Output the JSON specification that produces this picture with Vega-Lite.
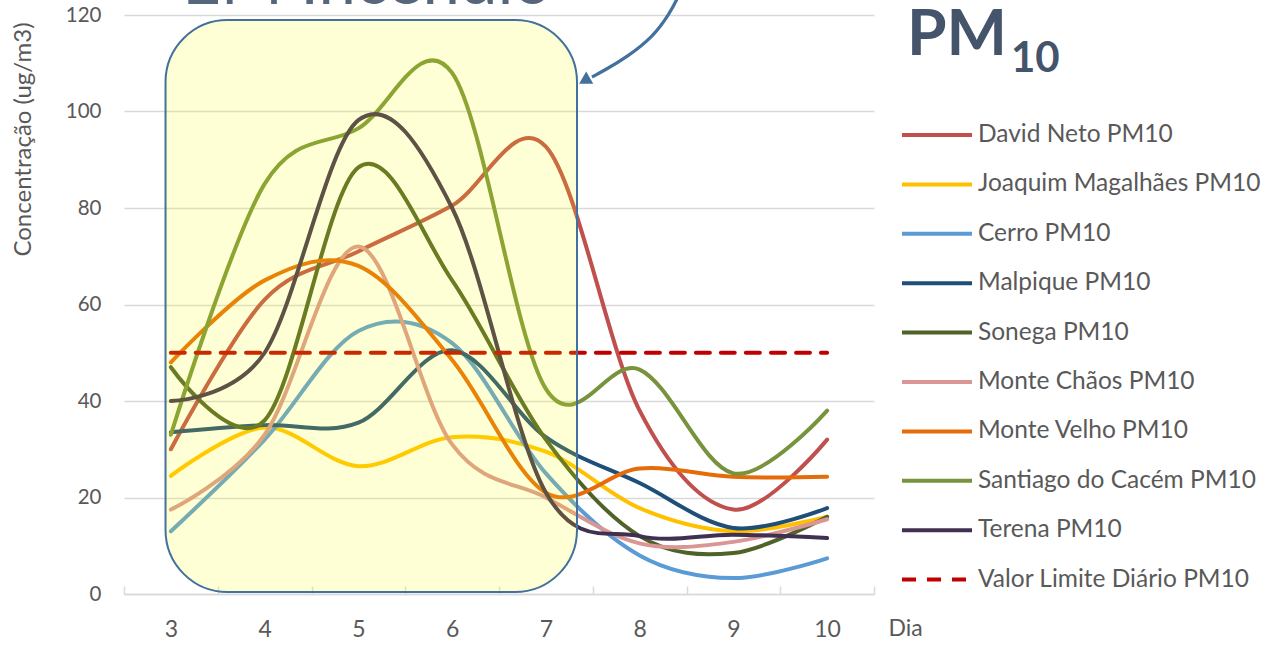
{
  "$schema": "https://vega.github.io/schema/vega-lite/v6.json",
  "width": 750,
  "height": 579,
  "autosize": {"type": "none"},
  "padding": {"left": 124, "top": 15, "right": 394, "bottom": 54},
  "background": "white",
  "config": {"view": {"stroke": null}, "font": "Lato"},
  "datasets": {
    "pm": [
      {"dia": 3, "David Neto PM10": 30, "Joaquim Magalhães PM10": 24.5, "Cerro PM10": 13, "Malpique PM10": 33.5, "Sonega PM10": 47, "Monte Chãos PM10": 17.5, "Monte Velho PM10": 48, "Santiago do Cacém PM10": 33, "Terena PM10": 40, "Valor Limite Diário PM10": 50},
      {"dia": 4, "David Neto PM10": 61, "Joaquim Magalhães PM10": 34.5, "Cerro PM10": 32, "Malpique PM10": 35, "Sonega PM10": 36, "Monte Chãos PM10": 33, "Monte Velho PM10": 65, "Santiago do Cacém PM10": 85, "Terena PM10": 50, "Valor Limite Diário PM10": 50},
      {"dia": 5, "David Neto PM10": 71, "Joaquim Magalhães PM10": 26.5, "Cerro PM10": 54.5, "Malpique PM10": 35.5, "Sonega PM10": 88.4, "Monte Chãos PM10": 72, "Monte Velho PM10": 68, "Santiago do Cacém PM10": 96.5, "Terena PM10": 98.2, "Valor Limite Diário PM10": 50},
      {"dia": 6, "David Neto PM10": 80.5, "Joaquim Magalhães PM10": 32.5, "Cerro PM10": 52, "Malpique PM10": 50.5, "Sonega PM10": 65, "Monte Chãos PM10": 31, "Monte Velho PM10": 48.5, "Santiago do Cacém PM10": 108, "Terena PM10": 80, "Valor Limite Diário PM10": 50},
      {"dia": 7, "David Neto PM10": 92.7, "Joaquim Magalhães PM10": 29.5, "Cerro PM10": 25, "Malpique PM10": 32.5, "Sonega PM10": 32, "Monte Chãos PM10": 20, "Monte Velho PM10": 21, "Santiago do Cacém PM10": 42.5, "Terena PM10": 21, "Valor Limite Diário PM10": 50},
      {"dia": 8, "David Neto PM10": 38, "Joaquim Magalhães PM10": 17.8, "Cerro PM10": 8, "Malpique PM10": 23, "Sonega PM10": 12, "Monte Chãos PM10": 10.5, "Monte Velho PM10": 26, "Santiago do Cacém PM10": 46.5, "Terena PM10": 12, "Valor Limite Diário PM10": 50},
      {"dia": 9, "David Neto PM10": 17.5, "Joaquim Magalhães PM10": 13, "Cerro PM10": 3.3, "Malpique PM10": 13.7, "Sonega PM10": 8.5, "Monte Chãos PM10": 10.8, "Monte Velho PM10": 24.3, "Santiago do Cacém PM10": 25, "Terena PM10": 12.3, "Valor Limite Diário PM10": 50},
      {"dia": 10, "David Neto PM10": 32, "Joaquim Magalhães PM10": 16, "Cerro PM10": 7.4, "Malpique PM10": 17.8, "Sonega PM10": 16, "Monte Chãos PM10": 15.5, "Monte Velho PM10": 24.3, "Santiago do Cacém PM10": 38, "Terena PM10": 11.6, "Valor Limite Diário PM10": 50}
    ],
    "seta": [
      {"x": 8.409, "y": 123.73},
      {"x": 8.324, "y": 120.41},
      {"x": 8.143, "y": 115.44},
      {"x": 7.865, "y": 111.3},
      {"x": 7.631, "y": 108.6},
      {"x": 7.492, "y": 107.15}
    ]
  },
  "layer": [
    {
      "data": {"name": "pm"},
      "transform": [
        {"fold": ["David Neto PM10", "Joaquim Magalhães PM10", "Cerro PM10", "Malpique PM10", "Sonega PM10", "Monte Chãos PM10", "Monte Velho PM10", "Santiago do Cacém PM10", "Terena PM10", "Valor Limite Diário PM10"], "as": ["serie", "valor"]}
      ],
      "mark": {"type": "line", "interpolate": "cardinal", "strokeCap": "round", "strokeJoin": "round"},
      "encoding": {
        "x": {
          "field": "dia", "type": "ordinal",
          "scale": {"type": "band", "paddingInner": 0, "paddingOuter": 0},
          "axis": {
            "title": "Dia", "labelAngle": 0, "tickBand": "extent",
            "domainColor": "#d9d9d9", "domainWidth": 1.5, "tickColor": "#d9d9d9", "tickWidth": 1.5, "tickSize": -8,
            "labelFont": "Lato", "labelFontSize": 23, "labelColor": "#595959", "labelPadding": 32,
            "titleFont": "Lato", "titleFontSize": 23, "titleFontWeight": "normal", "titleColor": "#595959",
            "titleAngle": 0, "titleX": 764, "titleY": 34, "titleAlign": "left", "titleBaseline": "middle"
          }
        },
        "y": {
          "field": "valor", "type": "quantitative",
          "scale": {"domain": [0, 120]},
          "axis": {
            "values": [0, 20, 40, 60, 80, 100, 120],
            "grid": true, "gridColor": "#d9d9d9", "gridWidth": 1.5, "domain": false, "ticks": false,
            "labelFont": "Lato", "labelFontSize": 20.5, "labelColor": "#595959", "labelPadding": 23,
            "title": "Concentração (ug/m3)", "titleFont": "Lato", "titleFontSize": 24, "titleFontWeight": "normal", "titleColor": "#595959",
            "titleAngle": 270, "titleX": -101, "titleY": 124, "titleAlign": "center", "titleBaseline": "middle"
          }
        },
        "color": {
          "field": "serie", "type": "nominal",
          "scale": {
            "domain": ["David Neto PM10", "Joaquim Magalhães PM10", "Cerro PM10", "Malpique PM10", "Sonega PM10", "Monte Chãos PM10", "Monte Velho PM10", "Santiago do Cacém PM10", "Terena PM10", "Valor Limite Diário PM10"],
            "range": ["#c0504d", "#ffc000", "#5b9bd5", "#1f4e79", "#4f6228", "#d99694", "#e46c0a", "#77933c", "#403152", "#c00000"]
          },
          "legend": {"orient": "none", "legendX": 776, "legendY": 83, "title": null, "symbolType": "stroke", "symbolSize": 4900, "symbolStrokeWidth": 4.5, "labelFont": "Lato", "labelFontSize": 24.5, "labelColor": "#595959", "labelOffset": 4, "rowPadding": 0.4, "padding": 0, "labelLimit": 400}
        },
        "strokeDash": {
          "field": "serie", "type": "nominal",
          "scale": {
            "domain": ["David Neto PM10", "Joaquim Magalhães PM10", "Cerro PM10", "Malpique PM10", "Sonega PM10", "Monte Chãos PM10", "Monte Velho PM10", "Santiago do Cacém PM10", "Terena PM10", "Valor Limite Diário PM10"],
            "range": [[2000, 0], [2000, 0], [2000, 0], [2000, 0], [2000, 0], [2000, 0], [2000, 0], [2000, 0], [2000, 0], [14, 11]]
          },
          "legend": {"orient": "none", "legendX": 776, "legendY": 83, "title": null, "symbolType": "stroke", "symbolSize": 4900, "symbolStrokeWidth": 4.5, "labelFont": "Lato", "labelFontSize": 24.5, "labelColor": "#595959", "labelOffset": 4, "rowPadding": 0.4, "padding": 0, "labelLimit": 400}
        },
        "strokeWidth": {
          "field": "serie", "type": "nominal",
          "scale": {
            "domain": ["David Neto PM10", "Joaquim Magalhães PM10", "Cerro PM10", "Malpique PM10", "Sonega PM10", "Monte Chãos PM10", "Monte Velho PM10", "Santiago do Cacém PM10", "Terena PM10", "Valor Limite Diário PM10"],
            "range": [4, 4, 4, 4, 4, 4, 4, 4, 4, 5.5]
          },
          "legend": null
        }
      }
    },
    {
      "layer": [
        {
          "data": {"values": [{}]},
          "mark": {"type": "rect", "cornerRadius": 62, "fill": "#ffff00", "fillOpacity": 0.16, "stroke": "#41719c", "strokeWidth": 2, "strokeOpacity": 1},
          "encoding": {
            "x": {"datum": 2.943, "type": "quantitative", "scale": {"domain": [2.5, 10.5]}, "axis": null},
            "x2": {"datum": 7.332},
            "y": {"datum": 0.41, "type": "quantitative", "scale": {"domain": [0, 120]}, "title": "Concentração (ug/m3)"},
            "y2": {"datum": 118.96}
          }
        },
        {
          "data": {"name": "seta"},
          "mark": {"type": "line", "interpolate": "basis", "stroke": "#41719c", "strokeWidth": 3.2, "clip": false},
          "encoding": {
            "x": {"field": "x", "type": "quantitative", "scale": {"domain": [2.5, 10.5]}, "axis": null},
            "y": {"field": "y", "type": "quantitative", "scale": {"domain": [0, 120]}, "title": "Concentração (ug/m3)"}
          }
        },
        {
          "data": {"values": [{}]},
          "mark": {"type": "point", "shape": "triangle", "filled": true, "fill": "#41719c", "stroke": null, "size": 200, "angle": 240, "opacity": 1},
          "encoding": {
            "x": {"datum": 7.43, "type": "quantitative", "scale": {"domain": [2.5, 10.5]}, "axis": null},
            "y": {"datum": 106.6, "type": "quantitative", "scale": {"domain": [0, 120]}, "title": "Concentração (ug/m3)"}
          }
        },
        {
          "data": {"values": [{"t": "PM"}]},
          "mark": {"type": "text", "font": "Lato", "fontSize": 64, "fontWeight": "bold", "color": "#44546a", "align": "left", "baseline": "alphabetic"},
          "encoding": {
            "text": {"field": "t"},
            "x": {"datum": 10.852, "type": "quantitative", "scale": {"domain": [2.5, 10.5]}, "axis": null},
            "y": {"datum": 111.7, "type": "quantitative", "scale": {"domain": [0, 120]}, "title": "Concentração (ug/m3)"}
          }
        },
        {
          "data": {"values": [{"t": "10"}]},
          "mark": {"type": "text", "font": "Lato", "fontSize": 42, "fontWeight": "bold", "color": "#44546a", "align": "left", "baseline": "alphabetic"},
          "encoding": {
            "text": {"field": "t"},
            "x": {"datum": 11.96, "type": "quantitative", "scale": {"domain": [2.5, 10.5]}, "axis": null},
            "y": {"datum": 108.19, "type": "quantitative", "scale": {"domain": [0, 120]}, "title": "Concentração (ug/m3)"}
          }
        },
        {
          "data": {"values": [{"t": "EM Incêndio"}]},
          "mark": {"type": "text", "font": "Lato", "fontSize": 67, "color": "#56667c", "align": "left", "baseline": "alphabetic"},
          "encoding": {
            "text": {"field": "t"},
            "x": {"datum": 3.12, "type": "quantitative", "scale": {"domain": [2.5, 10.5]}, "axis": null},
            "y": {"datum": 122.2, "type": "quantitative", "scale": {"domain": [0, 120]}, "title": "Concentração (ug/m3)"}
          }
        }
      ]
    }
  ],
  "resolve": {"scale": {"x": "independent"}}
}
